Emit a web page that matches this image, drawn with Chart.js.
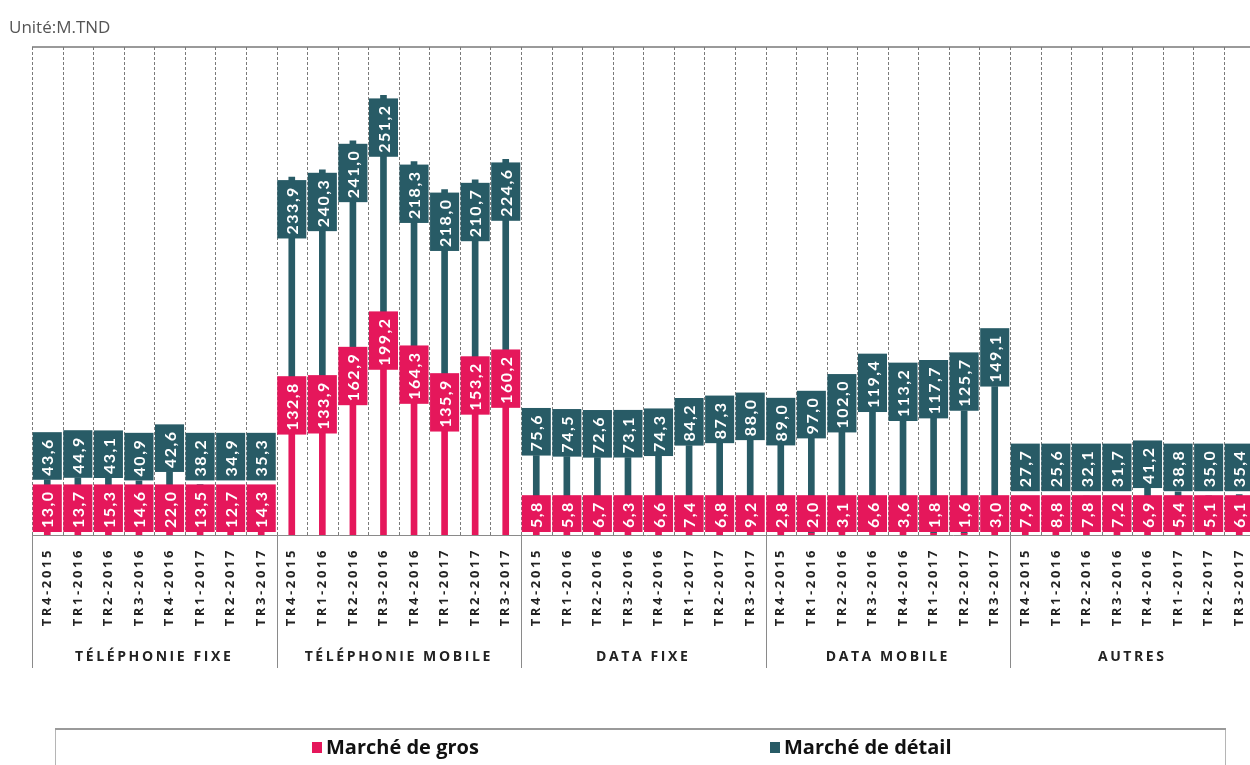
<!DOCTYPE html>
<html>
<head>
<meta charset="utf-8">
<script src="https://cdn.jsdelivr.net/npm/chart.js@4.4.1/dist/chart.umd.min.js"></script>
<style>
  html, body { margin: 0; padding: 0; background: #fff; overflow: hidden; }
  #wrap { width: 1250px; height: 765px; overflow: hidden; position: relative; }
  canvas { display: block; }
</style>
</head>
<body>
<div id="wrap"><canvas id="c" width="1260" height="765" style="width:1260px;height:765px"></canvas></div>
<script>
// ---- DATA ----
const quarters = ["TR4-2015", "TR1-2016", "TR2-2016", "TR3-2016", "TR4-2016", "TR1-2017", "TR2-2017", "TR3-2017"];
const groups = ["TÉLÉPHONIE FIXE", "TÉLÉPHONIE MOBILE", "DATA FIXE", "DATA MOBILE", "AUTRES"];
const seriesNames = ["Marché de gros", "Marché de détail"];
const unitLabel = "Unité:M.TND";

const grosFixe    = [13.0, 13.7, 15.3, 14.6, 22.0, 13.5, 12.7, 14.3];
const grosMobile  = [132.8, 133.9, 162.9, 199.2, 164.3, 135.9, 153.2, 160.2];
const grosDataFix = [5.8, 5.8, 6.7, 6.3, 6.6, 7.4, 6.8, 9.2];
const grosDataMob = [2.8, 2.0, 3.1, 6.6, 3.6, 1.8, 1.6, 3.0];
const grosAutres  = [7.9, 8.8, 7.8, 7.2, 6.9, 5.4, 5.1, 6.1];

const detFixe    = [43.6, 44.9, 43.1, 40.9, 42.6, 38.2, 34.9, 35.3];
const detMobile  = [233.9, 240.3, 241.0, 251.2, 218.3, 218.0, 210.7, 224.6];
const detDataFix = [75.6, 74.5, 72.6, 73.1, 74.3, 84.2, 87.3, 88.0];
const detDataMob = [89.0, 97.0, 102.0, 119.4, 113.2, 117.7, 125.7, 149.1];
const detAutres  = [27.7, 25.6, 32.1, 31.7, 41.2, 38.8, 35.0, 35.4];

// ---- BUILD ----
const labels = groups.flatMap(() => quarters);
const gros = [].concat(grosFixe, grosMobile, grosDataFix, grosDataMob, grosAutres);
const detail = [].concat(detFixe, detMobile, detDataFix, detDataMob, detAutres);

const PINK = "#E5175B";
const TEAL = "#285B66";
const LABEL_FONT = "bold 16px Lato, 'Open Sans', sans-serif";
const TICK_FONT = "bold 13px 'Open Sans', sans-serif";
const GROUP_FONT = "bold 14px 'Open Sans', sans-serif";

function fmt(v) { return v.toFixed(1).replace('.', ','); }

const decor = {
  id: 'decor',
  beforeDatasetsDraw(chart) {
    const ctx = chart.ctx;
    const a = chart.chartArea;
    const n = labels.length;
    const cw = (a.right - a.left) / n;
    ctx.save();
    // unit label
    ctx.fillStyle = "#555";
    ctx.font = "17px 'Open Sans', sans-serif";
    ctx.textAlign = "left";
    ctx.textBaseline = "alphabetic";
    ctx.fillText(unitLabel, 9, 33);

    // top border
    ctx.strokeStyle = "#9a9a9a";
    ctx.lineWidth = 2;
    ctx.beginPath();
    ctx.moveTo(a.left, a.top);
    ctx.lineTo(a.right + 10, a.top);
    ctx.stroke();

    // dashed vertical grid lines
    ctx.strokeStyle = "#7a7a7a";
    ctx.lineWidth = 1;
    ctx.setLineDash([3, 2]);
    for (let i = 0; i <= n; i++) {
      const x = Math.round(a.left + i * cw) + 0.5;
      ctx.beginPath();
      ctx.moveTo(x, a.top);
      ctx.lineTo(x, a.bottom);
      ctx.stroke();
    }
    ctx.setLineDash([]);

    // baseline
    ctx.strokeStyle = "#8a8a8a";
    ctx.beginPath();
    ctx.moveTo(a.left, a.bottom + 0.5);
    ctx.lineTo(a.right + 10, a.bottom + 0.5);
    ctx.stroke();

    // group separators below axis
    const per = quarters.length;
    for (let g = 0; g <= groups.length; g++) {
      const x = Math.round(a.left + g * per * cw) + 0.5;
      ctx.beginPath();
      ctx.moveTo(x, a.bottom);
      ctx.lineTo(x, a.bottom + 133);
      ctx.stroke();
    }

    // category tick labels (rotated)
    ctx.fillStyle = "#222";
    ctx.font = TICK_FONT;
    ctx.letterSpacing = "2.6px";
    ctx.textAlign = "right";
    ctx.textBaseline = "middle";
    for (let i = 0; i < n; i++) {
      const x = a.left + (i + 0.5) * cw;
      ctx.save();
      ctx.translate(x, a.bottom + 13);
      ctx.rotate(-Math.PI / 2);
      ctx.fillText(labels[i], 0, 0);
      ctx.restore();
    }
    // group labels
    ctx.font = GROUP_FONT;
    ctx.letterSpacing = "2.6px";
    ctx.textAlign = "center";
    for (let g = 0; g < groups.length; g++) {
      const x = a.left + (g * per + per / 2) * cw;
      ctx.fillText(groups[g], x, a.bottom + 122);
    }
    ctx.letterSpacing = "0px";

    // legend box
    ctx.strokeStyle = "#b5b5b5";
    ctx.lineWidth = 1;
    ctx.strokeRect(55.5, 729.5, 1170, 60);
    ctx.strokeStyle = "#9a9a9a";
    ctx.lineWidth = 2;
    ctx.beginPath();
    ctx.moveTo(55, 729);
    ctx.lineTo(1226, 729);
    ctx.stroke();
    const items = [{x: 312, c: PINK}, {x: 770, c: TEAL}];
    ctx.font = "bold 20px 'Open Sans', sans-serif";
    ctx.textAlign = "left";
    ctx.textBaseline = "middle";
    items.forEach((it, k) => {
      ctx.fillStyle = it.c;
      ctx.fillRect(it.x, 742, 10, 11);
      ctx.fillStyle = "#111";
      ctx.fillText(seriesNames[k], it.x + 14, 748);
    });
    ctx.restore();
  },
  afterDatasetsDraw(chart) {
    const ctx = chart.ctx;
    const a = chart.chartArea;
    const cw = (a.right - a.left) / labels.length;
    const bw = cw - 1.5;
    const pad = 5;
    ctx.save();
    ctx.font = LABEL_FONT;
    ctx.letterSpacing = "1.5px";
    const pinkTop = [];
    const drawBox = (x, top, h, color, text) => {
      ctx.fillStyle = color;
      ctx.fillRect(x - bw / 2, top, bw, h);
      ctx.fillStyle = "#fff";
      ctx.save();
      ctx.translate(x + 1, top + h / 2 + 1);
      ctx.rotate(-Math.PI / 2);
      ctx.textAlign = "center";
      ctx.textBaseline = "middle";
      ctx.fillText(text, 0, 0);
      ctx.restore();
    };
    const m0 = chart.getDatasetMeta(0);
    m0.data.forEach((el, i) => {
      const t = fmt(gros[i]);
      const h = ctx.measureText(t).width + 2 * pad;
      let bottom = Math.min(el.y + h / 2, a.bottom - 3);
      const top = bottom - h;
      pinkTop[i] = top;
      drawBox(el.x, top, h, PINK, t);
    });
    const m1 = chart.getDatasetMeta(1);
    m1.data.forEach((el, i) => {
      const t = fmt(detail[i]);
      const h = ctx.measureText(t).width + 2 * pad;
      let top;
      if (el.base - el.y > 180) {
        top = el.y + 3;
      } else {
        const bottom = Math.min(el.y, pinkTop[i] - 4);
        top = bottom - h;
      }
      drawBox(el.x, top, h, TEAL, t);
    });
    ctx.restore();
  }
};

new Chart(document.getElementById('c'), {
  type: 'bar',
  data: {
    labels: labels,
    datasets: [
      { label: seriesNames[0], data: gros, backgroundColor: PINK, barThickness: 6, stack: 's' },
      { label: seriesNames[1], data: detail, backgroundColor: TEAL, barThickness: 6, stack: 's' }
    ]
  },
  options: {
    responsive: false,
    animation: false,
    layout: { padding: { left: 32, right: 5.5, top: 47, bottom: 230 } },
    scales: {
      x: { stacked: true, display: false },
      y: { stacked: true, display: false, min: 0, max: 500 }
    },
    plugins: { legend: { display: false }, tooltip: { enabled: false } }
  },
  plugins: [decor]
});
</script>
</body>
</html>
